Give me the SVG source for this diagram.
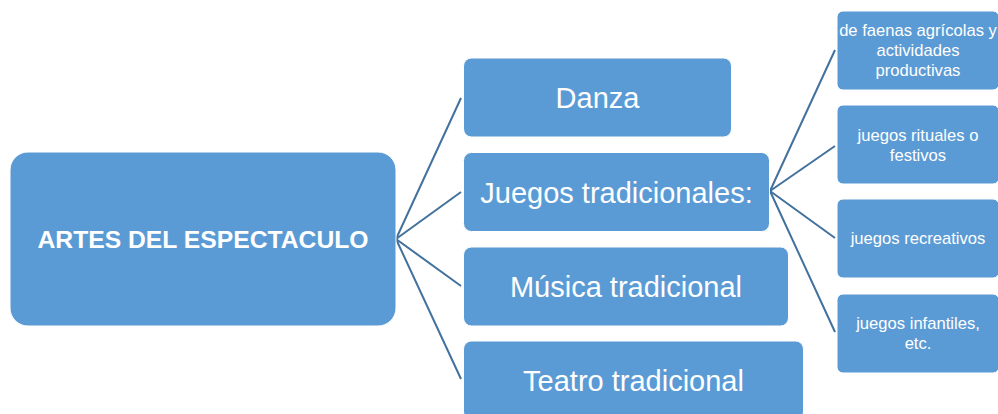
<svg xmlns="http://www.w3.org/2000/svg" width="998" height="414" viewBox="0 0 998 414">
<style>
.box{fill:#5B9BD5;stroke:#ffffff;stroke-width:1}
.t{fill:#ffffff;font-family:"Liberation Sans",Arial,sans-serif;text-anchor:middle}
.big{font-size:29px}
.sm{font-size:16.6px}
.root{font-size:24.7px;font-weight:bold}
.c{stroke:#41719C;stroke-width:2;fill:none}
</style>
<rect width="998" height="414" fill="#ffffff"/>
<g id="connectors">
<line class="c" x1="396" y1="239" x2="461" y2="98"/>
<line class="c" x1="396" y1="239" x2="461" y2="192"/>
<line class="c" x1="396" y1="239" x2="461" y2="286"/>
<line class="c" x1="396" y1="239" x2="461" y2="379"/>
<line class="c" x1="770" y1="191" x2="835" y2="50"/>
<line class="c" x1="770" y1="191" x2="835" y2="146"/>
<line class="c" x1="770" y1="191" x2="835" y2="238"/>
<line class="c" x1="770" y1="191" x2="835" y2="332"/>
</g>
<g id="root">
<rect class="box" x="10" y="152" width="386" height="174" rx="18"/>
<text class="t root" x="203" y="248">ARTES DEL ESPECTACULO</text>
</g>
<g id="danza">
<rect class="box" x="463.5" y="58" width="268" height="79" rx="8"/>
<text class="t big" x="597.5" y="108">Danza</text>
</g>
<g id="juegos">
<rect class="box" x="463.5" y="152.5" width="306" height="79" rx="8"/>
<text class="t big" x="616.5" y="203">Juegos tradicionales:</text>
</g>
<g id="musica">
<rect class="box" x="463.5" y="247" width="325" height="79" rx="8"/>
<text class="t big" x="626" y="297">Música tradicional</text>
</g>
<g id="teatro">
<rect class="box" x="463.5" y="341" width="340" height="79" rx="8"/>
<text class="t big" x="633.5" y="391">Teatro tradicional</text>
</g>
<g id="faenas">
<rect class="box" x="837" y="11" width="162" height="79" rx="6"/>
<text class="t sm" x="918" y="36">de faenas agrícolas y</text>
<text class="t sm" x="918" y="56">actividades</text>
<text class="t sm" x="918" y="76">productivas</text>
</g>
<g id="rituales">
<rect class="box" x="837" y="105" width="162" height="79" rx="6"/>
<text class="t sm" x="918" y="141">juegos rituales o</text>
<text class="t sm" x="918" y="161">festivos</text>
</g>
<g id="recreativos">
<rect class="box" x="837" y="199" width="162" height="79" rx="6"/>
<text class="t sm" x="918" y="244">juegos recreativos</text>
</g>
<g id="infantiles">
<rect class="box" x="837" y="294" width="162" height="79" rx="6"/>
<text class="t sm" x="918" y="329">juegos infantiles,</text>
<text class="t sm" x="918" y="349">etc.</text>
</g>
</svg>
